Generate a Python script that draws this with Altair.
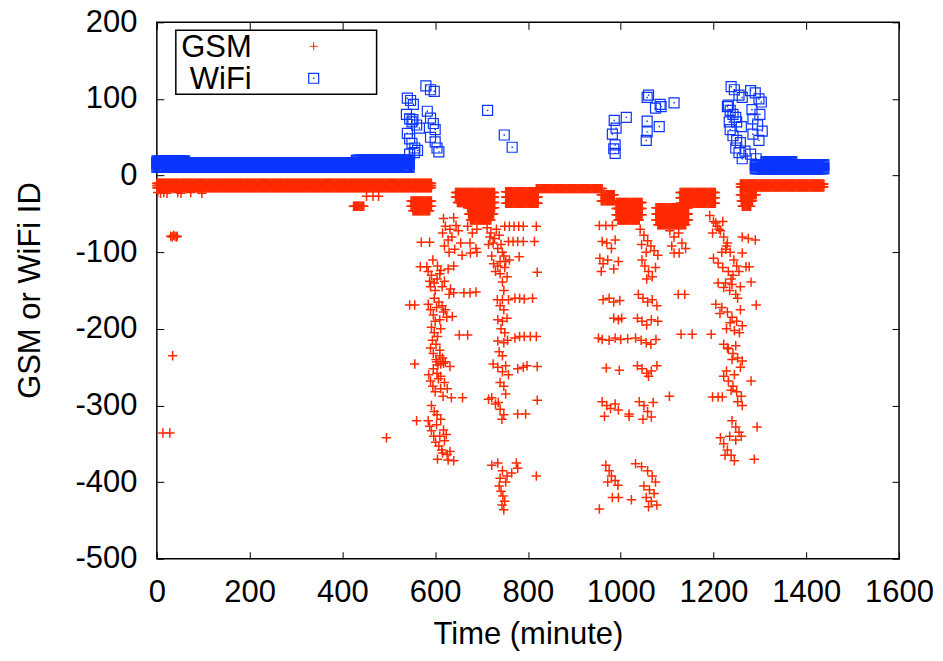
import altair as alt
import pandas as pd

# ---------------- data ----------------
# Dense observations: each run = an ID seen at every sample between start and end (minutes)
SAMPLE_STEP = 2
gsm_run_start = [0, 0, 0, 424, 548, 548, 552, 644, 644, 648, 670, 672, 676, 752, 752, 752, 818,
                 958, 958, 990, 990, 990, 994, 1076, 1076, 1076, 1080, 1128, 1128, 1128,
                 1258, 1258, 1258, 1260, 1262]
gsm_run_end = [592, 592, 592, 446, 592, 592, 588, 728, 728, 728, 728, 726, 720, 822, 822, 822, 960,
               986, 986, 1046, 1046, 1046, 1040, 1146, 1146, 1146, 1140, 1204, 1204, 1204,
               1438, 1438, 1292, 1285, 1280]
gsm_run_id = [-10, -13, -16, -40, -33, -40, -46, -22, -28, -35, -42, -50, -58, -21, -28, -36, -17,
              -25, -33, -35, -43, -51, -58, -42, -50, -58, -64, -22, -29, -36,
              -11, -15, -25, -33, -40]

wifi_run_start = [0, 0, 0, 430, 1290, 1290, 1313]
wifi_run_end = [544, 544, 60, 544, 1438, 1438, 1370]
wifi_run_id = [11, 16, 19, 20, 9, 14, 18]

# Isolated GSM observations (minute, id)
gsm_pt_x = [2, 8, 15, 22, 45, 52, 73, 97,
            30, 33, 36, 39, 42, 44, 34, 13, 28,
            452, 466, 478, 495, 570, 588, 545, 556, 556, 560,
            618, 622, 616, 628, 620, 630, 568, 582,
            585, 592, 598, 604, 610, 615, 620, 628, 633, 640, 600, 590,
            630, 640, 662, 675, 688,
            585, 590, 596, 603, 610, 618, 625, 600, 637, 652, 670,
            592, 598, 605, 612, 590, 596, 602, 610, 618, 606,
            603, 612, 622, 632, 586, 590, 595, 600, 607, 612, 617, 635, 659,
            585, 588, 592, 597, 603, 601, 608, 614, 620, 626, 605, 628, 640,
            595, 605, 612, 588, 598, 608, 615, 622, 594, 602, 610, 616, 596, 604, 612,
            620, 626, 592, 598, 604, 612, 618, 624, 610, 616, 632,
            640, 645, 650, 636, 655, 642, 658, 632,
            670, 680, 690, 675, 688, 676, 690,
            712, 720, 728, 715, 735, 745, 722, 740, 750, 730, 755, 745, 760,
            718, 725, 732, 738, 742, 748, 752, 726, 735, 740, 748, 740, 748, 742, 750,
            738, 745, 740, 748, 752, 740, 752,
            750, 760, 770, 780, 790, 818, 758, 768, 778, 790, 814, 781, 820,
            772, 782, 792, 810, 734, 745, 758, 735, 745, 755,
            772, 782, 792, 805, 818, 735, 748, 756,
            725, 735, 745, 752, 758, 778, 790, 798, 820,
            715, 722, 730, 740, 748, 744, 736, 778, 795, 820,
            722, 735, 745, 755, 765, 778, 775, 738, 742, 746, 750, 744, 748, 818,
            954, 968, 982, 960, 970, 980, 988, 955, 962, 972, 985, 995, 958,
            962, 975, 985, 998, 985, 995, 1002,
            952, 960, 975, 988, 1000, 1015, 969, 997,
            960, 970, 978, 988, 995, 965, 1018,
            968, 975, 980, 988, 994, 972, 954, 982, 995,
            1042, 1050, 1058, 1065, 1072, 1080, 1055, 1045,
            1046, 1052, 1060, 1068, 1075, 1056,
            1038, 1048, 1058, 1068, 1078,
            1036, 1046, 1056, 1066, 1080,
            1032, 1044, 1055, 1065, 1076,
            1036, 1046, 1056, 1066, 1078, 1060,
            1040, 1050, 1058, 1066, 1048, 1070, 1018,
            1032, 1045, 1058, 1068, 1075, 1050, 1062, 1072, 1055, 1066, 1078, 1060, 1023,
            1106, 1115, 1125, 1132, 1140, 1110, 1115, 1126, 1124, 1138,
            1130, 1154, 1195, 1105, 1198, 1210, 1219,
            1192, 1200, 1208, 1215, 1222, 1230, 1226, 1218, 1198,
            1200, 1210, 1220, 1232, 1242, 1250, 1238,
            1210, 1222, 1235, 1248, 1258,
            1205, 1218, 1230, 1240, 1250, 1262, 1245, 1228, 1258,
            1222, 1232, 1242, 1252, 1262, 1248,
            1222, 1232, 1242, 1250, 1260, 1245,
            1240, 1248, 1255, 1260,
            1215, 1222, 1230, 1238, 1245,
            1205, 1212, 1220, 1228, 1236, 1244, 1255, 1226, 1240, 1252, 1214, 1236,
            1256, 1230, 1240, 1258, 1228, 1238, 1252, 1262, 1248, 1235, 1225,
            1262, 1275, 1290, 1262, 1270, 1277, 1281, 1292, 1281, 1294, 1288]
gsm_pt_y = [-22, -23, -22, -23, -22, -23, -22, -23,
            -79, -80, -78, -79, -80, -79, -235, -336, -336,
            -27, -27, -27, -342, -87, -87, -169, -169, -246, -320,
            -56, -66, -75, -84, -92, -100, -119, -119,
            -125, -130, -140, -135, -128, -145, -138, -122, -148, -118, -150, -145,
            -155, -153, -153, -153, -152,
            -168, -175, -182, -172, -188, -178, -185, -190, -184, -208, -208,
            -198, -205, -210, -200, -225, -232, -240, -228, -245, -247,
            -243, -246, -243, -249, -260, -268, -275, -282, -265, -278, -288, -290, -290,
            -320, -327, -333, -340, -325, -348, -353, -358, -346, -364, -370, -371, -372,
            -110, -118, -124, -138, -160, -165, -170, -175, -215, -220, -235, -238, -252, -258, -262,
            -270, -278, -300, -308, -312, -318, -332, -338, -340, -362, -360,
            -55, -65, -72, -80, -88, -96, -104, -70,
            -66, -75, -70, -88, -95, -101, -100,
            -68, -75, -82, -90, -95, -100, -105, -112, -120, -125, -132, -139, -110,
            -80, -88, -70, -78, -90, -105, -112, -115, -118, -128, -150, -170, -175, -200, -205,
            -230, -235, -270, -275, -285, -395, -400,
            -66, -66, -66, -66, -66, -66, -86, -86, -86, -86, -86, -106, -126,
            -160, -160, -161, -160, -162, -162, -162, -188, -190, -186,
            -212, -210, -210, -210, -210, -216, -218, -215,
            -246, -250, -256, -248, -260, -252, -250, -248, -249,
            -292, -290, -298, -305, -312, -318, -296, -311, -311, -293,
            -378, -375, -385, -392, -388, -382, -375, -405, -412, -418, -425, -430, -436, -392,
            -65, -65, -65, -86, -88, -95, -84, -108, -115, -110, -122, -112, -125,
            -162, -160, -165, -163, -186, -188, -186,
            -212, -214, -215, -212, -214, -213, -251, -254,
            -295, -300, -304, -298, -306, -314, -314,
            -378, -385, -392, -398, -404, -400, -435, -420, -420,
            -70, -78, -85, -92, -98, -104, -100, -90,
            -110, -118, -125, -132, -120, -135,
            -155, -160, -165, -162, -170,
            -186, -190, -195, -188, -190,
            -212, -215, -218, -220, -214,
            -248, -252, -258, -255, -248, -262,
            -295, -300, -308, -315, -318, -296, -311,
            -376, -380, -385, -392, -400, -405, -410, -415, -420, -425, -430, -432, -423,
            -72, -80, -75, -88, -95, -92, -101, -101, -155, -155,
            -207, -207, -207, -288, -289, -289, -289,
            -52, -60, -66, -72, -80, -88, -96, -100, -75,
            -108, -114, -120, -125, -130, -118, -135,
            -140, -146, -150, -155, -145,
            -168, -172, -178, -185, -190, -196, -202, -200, -175,
            -220, -226, -232, -238, -242, -222,
            -262, -268, -275, -282, -288, -260,
            -320, -328, -335, -340,
            -342, -350, -358, -365, -372,
            -62, -70, -60, -92, -100, -110, -125, -140, -142, -160, -180, -192,
            -205, -225, -240, -250, -255, -280, -295, -300, -345, -340, -365,
            -80, -82, -84, -101, -119, -119, -139, -169, -268, -328, -370]

# Isolated WiFi observations (minute, id)
wifi_pt_x = [580, 590, 598, 540, 547, 553, 538, 545, 550, 583, 590, 596, 600, 552, 560, 566,
             540, 545, 550, 556, 562, 590, 600, 604, 608, 545, 555,
             713, 749, 766,
             986, 1012, 990, 982, 988, 988, 985, 1057, 1057, 1055, 1083, 1057, 1085, 1075,
             1115, 1060, 1087,
             1238, 1245, 1255, 1262, 1280, 1290, 1298, 1303, 1232, 1236, 1242, 1248, 1283,
             1300, 1250, 1260, 1285, 1295, 1305, 1236, 1242, 1250, 1258, 1285, 1298, 1248,
             1255, 1262, 1268, 1280, 1292, 1230, 1234]
wifi_pt_y = [117, 112, 110, 101, 98, 93, 80, 74, 70, 84, 75, 68, 60, 73, 66, 62,
             55, 48, 42, 36, 33, 50, 44, 36, 31, 28, 30,
             85, 53, 37,
             72, 76, 62, 54, 40, 29, 35, 71, 57, 46, 64, 102, 93, 88,
             95, 105, 90,
             116, 112, 105, 102, 111, 108, 100, 96, 92, 85, 80, 76, 86,
             80, 70, 64, 74, 66, 58, 60, 52, 46, 43, 54, 46, 36,
             30, 22, 32, 28, 22, 90, 70]

x_ticks = [0, 200, 400, 600, 800, 1000, 1200, 1400, 1600]
y_ticks = [-500, -400, -300, -200, -100, 0, 100, 200]
legend_labels = ["GSM", "WiFi"]


def expand(starts, ends, ids):
    xs, ys = [], []
    for s, e, v in zip(starts, ends, ids):
        for t in range(s, e + 1, SAMPLE_STEP):
            xs.append(t)
            ys.append(v)
    return xs, ys


gx, gy = expand(gsm_run_start, gsm_run_end, gsm_run_id)
wx, wy = expand(wifi_run_start, wifi_run_end, wifi_run_id)
gsm_df = pd.DataFrame({"t": gx + gsm_pt_x, "id": gy + gsm_pt_y})
wifi_df = pd.DataFrame({"t": wx + wifi_pt_x, "id": wy + wifi_pt_y})

# ---------------- style ----------------
FONT = "Liberation Sans"
FS = 31
RED = "#ff2a00"
BLUE = "#0b35ff"
PLUS = "M-1,0L1,0M0,-1L0,1"
PLUS_SIZE = 90
PLUS_SW = 1.5
SQ_SIZE = 100
SQ_SW = 1.2
W, H = 743, 537
TICK = 7
LABEL = "'' + datum.value"

xs = alt.Scale(domain=[0, 1600], nice=False, zero=False)
ys = alt.Scale(domain=[-500, 200], nice=False, zero=False)

ax_bottom = alt.Axis(orient="bottom", values=x_ticks, offset=-TICK, tickSize=TICK, domain=False,
                     grid=False, labelPadding=19, labelFontSize=FS, labelFont=FONT,
                     labelExpr=LABEL,
                     labelColor="black", tickColor="black", tickWidth=1, labelFlush=False,
                     labelOverlap=False, title="Time (minute)", titleFont=FONT, titleFontSize=FS,
                     titleFontWeight="normal", titleColor="black", titleX=W / 2, titleY=92,
                     titleBaseline="alphabetic", titleAnchor="middle")
ax_left = alt.Axis(orient="left", values=y_ticks, offset=-TICK, tickSize=TICK, domain=False,
                   grid=False, labelPadding=20, labelFontSize=FS, labelFont=FONT,
                   labelExpr=LABEL,
                   labelColor="black", tickColor="black", tickWidth=1, labelFlush=False,
                   labelOverlap=False, title="GSM or WiFi ID", titleFont=FONT, titleFontSize=FS,
                   titleFontWeight="normal", titleColor="black", titleX=-124, titleY=268,
                   titleAngle=-90, titleBaseline="alphabetic", titleAlign="center")
ax_top = alt.Axis(orient="top", values=x_ticks, offset=-TICK, tickSize=TICK, domain=False,
                  grid=False, labels=False, tickColor="black", tickWidth=1, title=None)
ax_right = alt.Axis(orient="right", values=y_ticks, offset=-TICK, tickSize=TICK, domain=False,
                    grid=False, labels=False, tickColor="black", tickWidth=1, title=None)

gsm = alt.Chart(gsm_df).mark_point(shape=PLUS, size=PLUS_SIZE, filled=False, strokeWidth=PLUS_SW,
                                   color=RED, opacity=1).encode(
    x=alt.X("t:Q", scale=xs, axis=ax_bottom),
    y=alt.Y("id:Q", scale=ys, axis=ax_left),
)
wifi = alt.Chart(wifi_df).mark_point(shape="square", size=SQ_SIZE, filled=False, strokeWidth=SQ_SW,
                                     color=BLUE, opacity=1).encode(
    x=alt.X("t:Q", scale=xs, axis=ax_top),
    y=alt.Y("id:Q", scale=ys, axis=ax_right),
)
wifi_dot = alt.Chart(wifi_df).mark_point(shape="square", size=2, filled=True,
                                         color=BLUE, opacity=1).encode(
    x=alt.X("t:Q", scale=xs, axis=None),
    y=alt.Y("id:Q", scale=ys, axis=None),
)

one = alt.Data(values=[{}])
leg_box = alt.Chart(one).mark_rect(fillOpacity=0, stroke="black", strokeWidth=1.5).encode(
    x=alt.value(19), x2=alt.value(220), y=alt.value(8), y2=alt.value(72))
leg_t1 = alt.Chart(one).mark_text(align="right", baseline="middle", font=FONT, fontSize=FS,
                                  color="black").encode(
    x=alt.value(95), y=alt.value(26), text=alt.value(legend_labels[0]))
leg_t2 = alt.Chart(one).mark_text(align="right", baseline="middle", font=FONT, fontSize=FS,
                                  color="black").encode(
    x=alt.value(95), y=alt.value(58), text=alt.value(legend_labels[1]))
leg_m1 = alt.Chart(one).mark_point(shape=PLUS, size=64, filled=False, strokeWidth=1,
                                   color=RED, opacity=1).encode(x=alt.value(157), y=alt.value(24))
leg_m2 = alt.Chart(one).mark_point(shape="square", size=SQ_SIZE, filled=False, strokeWidth=SQ_SW,
                                   color=BLUE, opacity=1).encode(x=alt.value(157), y=alt.value(56))
leg_m2d = alt.Chart(one).mark_point(shape="square", size=2, filled=True,
                                    color=BLUE, opacity=1).encode(x=alt.value(157), y=alt.value(56))

chart = alt.layer(gsm, wifi, wifi_dot, leg_box, leg_t1, leg_t2, leg_m1, leg_m2, leg_m2d).resolve_scale(
    x="shared", y="shared"
).resolve_axis(
    x="independent", y="independent"
).properties(
    width=W, height=H,
    autosize=alt.AutoSizeParams(type="none"),
    padding={"left": 149, "top": 14, "right": 36, "bottom": 95},
).configure_view(stroke="black", strokeWidth=1.5)

chart.save("out.html", embed_options={"renderer": "svg", "actions": False})
